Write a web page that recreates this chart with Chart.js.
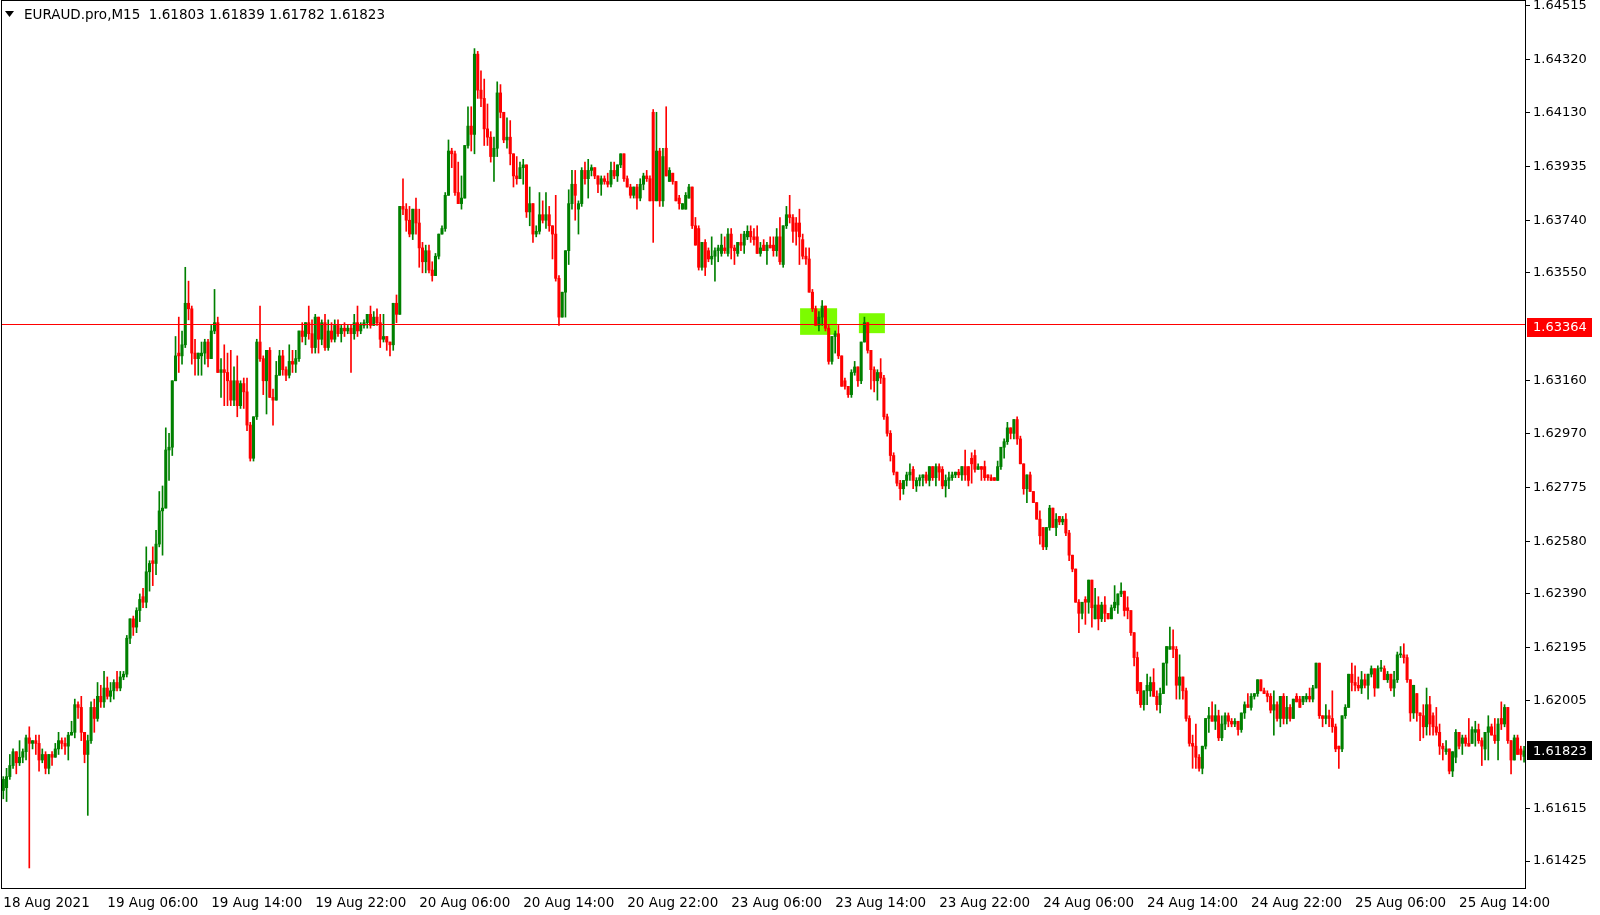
<!DOCTYPE html>
<html>
<head>
<meta charset="utf-8">
<title>EURAUD.pro,M15</title>
<script src="https://cdn.jsdelivr.net/npm/chart.js@4.4.1/dist/chart.umd.min.js"></script>
<style>
  html, body { margin: 0; padding: 0; background: #fff; }
  #wrap { width: 1600px; height: 915px; }
</style>
</head>
<body>
<div id="wrap"><canvas id="chart" width="1600" height="915"></canvas></div>
<script>
// EURAUD.pro M15, one entry per bar (18 Aug 22:00 .. 25 Aug 19:00)
const opens = [
  1.6168,1.6169,1.6173,1.6177,1.6182,1.6178,1.6180,1.6182,1.6187,1.6185, // 0
  1.6186,1.6185,1.6179,1.6181,1.6176,1.6181,1.6180,1.6183,1.6186,1.6185,
  1.6184,1.6188,1.6189,1.6199,1.6198,1.6189,1.6181,1.6186,1.6198,1.6194,
  1.6202,1.6200,1.6205,1.6202,1.6204,1.6207,1.6205,1.6209,1.6210,1.6223,
  1.6230,1.6227,1.6233,1.6238,1.6236,1.6247,1.6251,1.6250,1.6257,1.6269,
  1.6270,1.6291,1.6292,1.6316,1.6326,1.6325,1.6329,1.6344,1.6342,1.6326, // 50
  1.6324,1.6325,1.6326,1.6330,1.6324,1.6334,1.6337,1.6319,1.6320,1.6319,
  1.6316,1.6309,1.6316,1.6307,1.6315,1.6312,1.6300,1.6288,1.6303,1.6330,
  1.6324,1.6316,1.6327,1.6310,1.6309,1.6318,1.6325,1.6320,1.6318,1.6323,
  1.6322,1.6324,1.6334,1.6332,1.6337,1.6333,1.6328,1.6339,1.6331,1.6337,
  1.6328,1.6334,1.6331,1.6336,1.6333,1.6335,1.6334,1.6335,1.6333,1.6337, // 100
  1.6334,1.6336,1.6337,1.6340,1.6336,1.6339,1.6337,1.6331,1.6332,1.6330,
  1.6329,1.6344,1.6340,1.6379,1.6378,1.6374,1.6369,1.6378,1.6373,1.6364,
  1.6359,1.6363,1.6356,1.6354,1.6361,1.6369,1.6371,1.6383,1.6399,1.6398,
  1.6384,1.6380,1.6382,1.6401,1.6408,1.6405,1.6434,1.6421,1.6418,1.6407,
  1.6404,1.6397,1.6400,1.6420,1.6413,1.6403,1.6404,1.6398,1.6390,1.6389, // 150
  1.6393,1.6394,1.6377,1.6380,1.6369,1.6370,1.6376,1.6374,1.6376,1.6372,
  1.6369,1.6353,1.6339,1.6348,1.6363,1.6380,1.6387,1.6378,1.6380,1.6392,
  1.6389,1.6392,1.6393,1.6390,1.6387,1.6389,1.6388,1.6387,1.6392,1.6390,
  1.6394,1.6398,1.6389,1.6386,1.6383,1.6386,1.6382,1.6387,1.6390,1.6389,
  1.6413,1.6381,1.6399,1.6381,1.6400,1.6388,1.6391,1.6388,1.6382,1.6378, // 200
  1.6378,1.6382,1.6386,1.6372,1.6371,1.6357,1.6366,1.6363,1.6360,1.6361,
  1.6363,1.6362,1.6364,1.6362,1.6369,1.6364,1.6362,1.6366,1.6365,1.6368,
  1.6370,1.6368,1.6368,1.6362,1.6365,1.6363,1.6365,1.6365,1.6363,1.6368,
  1.6358,1.6372,1.6376,1.6375,1.6373,1.6373,1.6367,1.6361,1.6360,1.6348,
  1.6342,1.6336,1.6339,1.6343,1.6335,1.6323,1.6332,1.6333,1.6325,1.6316, // 250
  1.6314,1.6311,1.6319,1.6321,1.6316,1.6330,1.6337,1.6327,1.6320,1.6316,
  1.6319,1.6317,1.6303,1.6297,1.6289,1.6283,1.6279,1.6277,1.6280,1.6282,
  1.6284,1.6278,1.6280,1.6281,1.6282,1.6280,1.6285,1.6281,1.6285,1.6284,
  1.6278,1.6280,1.6281,1.6282,1.6283,1.6282,1.6285,1.6285,1.6288,1.6289,
  1.6284,1.6285,1.6285,1.6282,1.6281,1.6281,1.6280,1.6285,1.6292,1.6294, // 300
  1.6299,1.6297,1.6302,1.6295,1.6286,1.6277,1.6282,1.6276,1.6272,1.6266,
  1.6263,1.6256,1.6263,1.6270,1.6263,1.6267,1.6265,1.6266,1.6261,1.6253,
  1.6248,1.6236,1.6232,1.6237,1.6236,1.6244,1.6230,1.6235,1.6230,1.6235,
  1.6232,1.6230,1.6234,1.6235,1.6239,1.6240,1.6234,1.6233,1.6225,1.6216,
  1.6207,1.6199,1.6204,1.6204,1.6207,1.6202,1.6199,1.6203,1.6214,1.6219, // 350
  1.6220,1.6219,1.6206,1.6209,1.6204,1.6194,1.6185,1.6184,1.6180,1.6176,
  1.6184,1.6194,1.6195,1.6193,1.6195,1.6187,1.6192,1.6195,1.6193,1.6192,
  1.6193,1.6190,1.6196,1.6199,1.6198,1.6202,1.6203,1.6208,1.6204,1.6203,
  1.6202,1.6197,1.6199,1.6194,1.6202,1.6194,1.6198,1.6194,1.6202,1.6201,
  1.6200,1.6201,1.6202,1.6201,1.6205,1.6214,1.6195,1.6194,1.6195,1.6194, // 400
  1.6191,1.6184,1.6183,1.6195,1.6198,1.6210,1.6207,1.6206,1.6205,1.6208,
  1.6206,1.6210,1.6212,1.6205,1.6212,1.6212,1.6208,1.6210,1.6205,1.6208,
  1.6217,1.6217,1.6216,1.6208,1.6196,1.6203,1.6196,1.6195,1.6191,1.6199,
  1.6195,1.6191,1.6189,1.6184,1.6182,1.6183,1.6175,1.6180,1.6189,1.6185,
  1.6187,1.6185,1.6185,1.6189,1.6190,1.6186,1.6183,1.6189,1.6191,1.6188, // 450
  1.6186,1.6194,1.6192,1.6198,1.6186,1.6179,1.6187,1.6183,1.61803
];
const highs = [
  1.6173,1.6176,1.6181,1.6183,1.6182,1.6186,1.6183,1.6188,1.6191,1.6186,
  1.6188,1.6188,1.6183,1.6182,1.6181,1.6182,1.6185,1.6189,1.6187,1.6187,
  1.6189,1.6193,1.6201,1.6200,1.6202,1.6189,1.6188,1.6200,1.6201,1.6207,
  1.6206,1.6211,1.6209,1.6207,1.6208,1.6211,1.6211,1.6211,1.6224,1.6230,
  1.6231,1.6234,1.6239,1.6241,1.6256,1.6251,1.6256,1.6262,1.6276,1.6278,
  1.6299,1.6297,1.6316,1.6332,1.6339,1.6334,1.6357,1.6352,1.6343,1.6331,
  1.6326,1.6330,1.6331,1.6331,1.6336,1.6349,1.6339,1.6324,1.6329,1.6326,
  1.6327,1.6321,1.6325,1.6316,1.6317,1.6317,1.6301,1.6303,1.6331,1.6343,
  1.6325,1.6327,1.6328,1.6313,1.6323,1.6327,1.6327,1.6321,1.6329,1.6327,
  1.6327,1.6334,1.6337,1.6337,1.6343,1.6338,1.6340,1.6339,1.6338,1.6340,
  1.6338,1.6337,1.6338,1.6338,1.6336,1.6337,1.6336,1.6336,1.6340,1.6343,
  1.6337,1.6338,1.6340,1.6343,1.6341,1.6342,1.6340,1.6340,1.6332,1.6330,
  1.6344,1.6347,1.6379,1.6389,1.6380,1.6379,1.6378,1.6382,1.6378,1.6366,
  1.6365,1.6365,1.6359,1.6362,1.6369,1.6372,1.6384,1.6403,1.6400,1.6399,
  1.6395,1.6390,1.6401,1.6415,1.6415,1.6436,1.6435,1.6428,1.6425,1.6416,
  1.6406,1.6404,1.6424,1.6423,1.6413,1.6411,1.6410,1.6398,1.6397,1.6395,
  1.6396,1.6394,1.6386,1.6380,1.6372,1.6384,1.6381,1.6384,1.6379,1.6372,
  1.6383,1.6354,1.6348,1.6363,1.6385,1.6392,1.6392,1.6381,1.6393,1.6395,
  1.6396,1.6394,1.6393,1.6390,1.6390,1.6390,1.6391,1.6395,1.6395,1.6394,
  1.6398,1.6398,1.6390,1.6387,1.6386,1.6387,1.6389,1.6391,1.6392,1.6390,
  1.6414,1.6413,1.6400,1.6400,1.6415,1.6393,1.6391,1.6388,1.6383,1.6380,
  1.6384,1.6387,1.6386,1.6375,1.6372,1.6366,1.6367,1.6364,1.6368,1.6364,
  1.6365,1.6369,1.6368,1.6371,1.6371,1.6365,1.6366,1.6369,1.6370,1.6372,
  1.6372,1.6371,1.6372,1.6366,1.6367,1.6366,1.6368,1.6368,1.6371,1.6375,
  1.6372,1.6379,1.6383,1.6376,1.6375,1.6378,1.6369,1.6364,1.6364,1.6349,
  1.6343,1.6341,1.6345,1.6343,1.6336,1.6332,1.6334,1.6336,1.6325,1.6317,
  1.6314,1.6320,1.6323,1.6321,1.6330,1.6339,1.6337,1.6327,1.6321,1.6320,
  1.6324,1.6318,1.6304,1.6298,1.6290,1.6283,1.6280,1.6280,1.6283,1.6286,
  1.6285,1.6281,1.6282,1.6282,1.6283,1.6285,1.6285,1.6286,1.6286,1.6285,
  1.6282,1.6283,1.6283,1.6283,1.6284,1.6285,1.6291,1.6285,1.6290,1.6291,
  1.6286,1.6285,1.6287,1.6282,1.6282,1.6281,1.6287,1.6292,1.6295,1.6301,
  1.6299,1.6302,1.6303,1.6296,1.6286,1.6282,1.6283,1.6276,1.6272,1.6269,
  1.6263,1.6263,1.6271,1.6270,1.6268,1.6267,1.6267,1.6268,1.6262,1.6253,
  1.6248,1.6237,1.6236,1.6238,1.6244,1.6244,1.6241,1.6238,1.6236,1.6238,
  1.6232,1.6235,1.6242,1.6239,1.6243,1.6240,1.6238,1.6233,1.6225,1.6218,
  1.6207,1.6204,1.6210,1.6209,1.6212,1.6204,1.6205,1.6214,1.6220,1.6227,
  1.6226,1.6220,1.6217,1.6209,1.6205,1.6195,1.6188,1.6192,1.6181,1.6184,
  1.6194,1.6198,1.6200,1.6199,1.6197,1.6195,1.6196,1.6196,1.6194,1.6194,
  1.6193,1.6196,1.6200,1.6203,1.6203,1.6203,1.6208,1.6208,1.6205,1.6204,
  1.6203,1.6204,1.6200,1.6202,1.6203,1.6202,1.6199,1.6201,1.6203,1.6202,
  1.6202,1.6203,1.6205,1.6206,1.6214,1.6214,1.6195,1.6199,1.6197,1.6204,
  1.6192,1.6184,1.6195,1.6199,1.6210,1.6214,1.6213,1.6209,1.6211,1.6210,
  1.6210,1.6213,1.6212,1.6213,1.6215,1.6213,1.6211,1.6210,1.6211,1.6218,
  1.6220,1.6221,1.6217,1.6208,1.6206,1.6203,1.6196,1.6199,1.6205,1.6202,
  1.6196,1.6198,1.6192,1.6185,1.6186,1.6183,1.6182,1.6190,1.6189,1.6188,
  1.6188,1.6194,1.6191,1.6193,1.6192,1.6187,1.6189,1.6195,1.6192,1.6194,
  1.6194,1.6200,1.6199,1.6198,1.6186,1.6188,1.6188,1.6184,1.61839
];
const lows = [
  1.6165,1.6164,1.6172,1.6176,1.6174,1.6177,1.6178,1.6179,1.6140,1.6183,
  1.6181,1.6175,1.6178,1.6174,1.6174,1.6177,1.6180,1.6181,1.6183,1.6181,
  1.6179,1.6188,1.6187,1.6194,1.6186,1.6178,1.6159,1.6185,1.6189,1.6193,
  1.6198,1.6198,1.6201,1.6200,1.6201,1.6204,1.6204,1.6208,1.6209,1.6221,
  1.6224,1.6225,1.6229,1.6234,1.6234,1.6240,1.6242,1.6246,1.6256,1.6253,
  1.6270,1.6280,1.6289,1.6316,1.6319,1.6322,1.6328,1.6338,1.6322,1.6318,
  1.6318,1.6318,1.6322,1.6321,1.6324,1.6333,1.6319,1.6310,1.6307,1.6307,
  1.6307,1.6307,1.6303,1.6306,1.6306,1.6298,1.6287,1.6287,1.6302,1.6323,
  1.6311,1.6304,1.6310,1.6300,1.6309,1.6318,1.6318,1.6316,1.6317,1.6319,
  1.6319,1.6323,1.6330,1.6329,1.6331,1.6326,1.6326,1.6326,1.6329,1.6327,
  1.6327,1.6330,1.6330,1.6332,1.6330,1.6332,1.6333,1.6319,1.6331,1.6332,
  1.6333,1.6335,1.6335,1.6335,1.6336,1.6336,1.6328,1.6330,1.6327,1.6325,
  1.6327,1.6337,1.6340,1.6376,1.6370,1.6368,1.6367,1.6369,1.6357,1.6355,
  1.6355,1.6355,1.6352,1.6354,1.6360,1.6369,1.6370,1.6383,1.6393,1.6383,
  1.6380,1.6378,1.6382,1.6400,1.6399,1.6398,1.6418,1.6415,1.6401,1.6401,
  1.6395,1.6388,1.6397,1.6411,1.6402,1.6400,1.6394,1.6386,1.6387,1.6389,
  1.6387,1.6375,1.6372,1.6366,1.6368,1.6369,1.6373,1.6371,1.6370,1.6360,
  1.6352,1.6336,1.6339,1.6339,1.6358,1.6378,1.6374,1.6369,1.6379,1.6387,
  1.6382,1.6390,1.6389,1.6384,1.6383,1.6387,1.6386,1.6386,1.6389,1.6388,
  1.6393,1.6388,1.6386,1.6382,1.6382,1.6378,1.6381,1.6385,1.6388,1.6381,
  1.6366,1.6381,1.6379,1.6379,1.6390,1.6388,1.6387,1.6381,1.6378,1.6378,
  1.6378,1.6382,1.6371,1.6365,1.6356,1.6356,1.6354,1.6359,1.6358,1.6352,
  1.6359,1.6361,1.6362,1.6361,1.6360,1.6358,1.6361,1.6363,1.6362,1.6367,
  1.6366,1.6365,1.6362,1.6361,1.6363,1.6358,1.6364,1.6361,1.6361,1.6358,
  1.6357,1.6371,1.6373,1.6366,1.6365,1.6358,1.6360,1.6358,1.6348,1.6341,
  1.6336,1.6334,1.6336,1.6334,1.6322,1.6322,1.6326,1.6324,1.6314,1.6313,
  1.6310,1.6310,1.6318,1.6314,1.6315,1.6330,1.6326,1.6313,1.6312,1.6309,
  1.6315,1.6302,1.6296,1.6287,1.6282,1.6278,1.6273,1.6275,1.6278,1.6280,
  1.6277,1.6276,1.6278,1.6278,1.6279,1.6278,1.6280,1.6278,1.6280,1.6277,
  1.6274,1.6277,1.6280,1.6281,1.6281,1.6280,1.6280,1.6278,1.6279,1.6283,
  1.6284,1.6280,1.6280,1.6280,1.6280,1.6280,1.6280,1.6284,1.6288,1.6293,
  1.6295,1.6295,1.6293,1.6286,1.6275,1.6272,1.6276,1.6272,1.6266,1.6257,
  1.6255,1.6255,1.6262,1.6263,1.6260,1.6264,1.6264,1.6260,1.6251,1.6247,
  1.6236,1.6225,1.6230,1.6228,1.6232,1.6227,1.6230,1.6226,1.6229,1.6229,
  1.6230,1.6230,1.6233,1.6232,1.6238,1.6231,1.6230,1.6224,1.6213,1.6203,
  1.6198,1.6197,1.6199,1.6202,1.6202,1.6197,1.6196,1.6203,1.6206,1.6219,
  1.6216,1.6201,1.6201,1.6201,1.6193,1.6184,1.6176,1.6176,1.6175,1.6174,
  1.6183,1.6189,1.6193,1.6190,1.6186,1.6186,1.6190,1.6191,1.6191,1.6191,
  1.6188,1.6189,1.6194,1.6198,1.6197,1.6201,1.6202,1.6204,1.6203,1.6200,
  1.6196,1.6188,1.6193,1.6191,1.6192,1.6192,1.6193,1.6194,1.6200,1.6198,
  1.6199,1.6200,1.6200,1.6200,1.6205,1.6194,1.6191,1.6192,1.6191,1.6189,
  1.6182,1.6176,1.6182,1.6194,1.6198,1.6204,1.6204,1.6204,1.6203,1.6205,
  1.6201,1.6209,1.6202,1.6205,1.6211,1.6208,1.6207,1.6204,1.6202,1.6207,
  1.6216,1.6214,1.6207,1.6193,1.6194,1.6193,1.6186,1.6187,1.6188,1.6188,
  1.6188,1.6188,1.6181,1.6179,1.6181,1.6174,1.6173,1.6178,1.6183,1.6181,
  1.6184,1.6184,1.6185,1.6184,1.6185,1.6177,1.6179,1.6179,1.6188,1.6185,
  1.6179,1.6190,1.6191,1.6185,1.6174,1.6179,1.6181,1.6179,1.61782
];
const closes = [
  1.6172,1.6173,1.6177,1.6182,1.6178,1.6180,1.6182,1.6187,1.6185,1.6186,
  1.6185,1.6179,1.6181,1.6176,1.6181,1.6180,1.6183,1.6186,1.6185,1.6184,
  1.6188,1.6189,1.6199,1.6198,1.6189,1.6181,1.6186,1.6198,1.6194,1.6202,
  1.6200,1.6205,1.6202,1.6204,1.6207,1.6205,1.6209,1.6210,1.6223,1.6230,
  1.6227,1.6233,1.6237,1.6236,1.6247,1.6250,1.6250,1.6257,1.6269,1.6270,
  1.6291,1.6292,1.6316,1.6325,1.6325,1.6329,1.6344,1.6342,1.6326,1.6324,
  1.6326,1.6326,1.6330,1.6324,1.6334,1.6337,1.6319,1.6320,1.6319,1.6316,
  1.6309,1.6316,1.6307,1.6315,1.6312,1.6300,1.6288,1.6303,1.6330,1.6324,
  1.6316,1.6327,1.6310,1.6309,1.6318,1.6325,1.6320,1.6318,1.6323,1.6322,
  1.6324,1.6334,1.6332,1.6337,1.6333,1.6328,1.6339,1.6331,1.6337,1.6328,
  1.6334,1.6331,1.6336,1.6333,1.6335,1.6334,1.6335,1.6333,1.6337,1.6334,
  1.6336,1.6337,1.6340,1.6336,1.6339,1.6337,1.6331,1.6332,1.6330,1.6329,
  1.6344,1.6340,1.6379,1.6378,1.6374,1.6369,1.6378,1.6373,1.6364,1.6359,
  1.6363,1.6356,1.6354,1.6361,1.6369,1.6371,1.6383,1.6399,1.6398,1.6384,
  1.6380,1.6382,1.6401,1.6408,1.6405,1.6434,1.6421,1.6418,1.6407,1.6404,
  1.6397,1.6400,1.6420,1.6413,1.6403,1.6404,1.6398,1.6390,1.6389,1.6393,
  1.6394,1.6377,1.6380,1.6369,1.6370,1.6376,1.6374,1.6376,1.6372,1.6369,
  1.6353,1.6339,1.6348,1.6363,1.6380,1.6387,1.6383,1.6380,1.6392,1.6389,
  1.6392,1.6393,1.6390,1.6387,1.6389,1.6388,1.6387,1.6392,1.6390,1.6394,
  1.6398,1.6389,1.6386,1.6383,1.6386,1.6382,1.6387,1.6390,1.6389,1.6381,
  1.6381,1.6399,1.6381,1.6397,1.6390,1.6392,1.6388,1.6381,1.6380,1.6380,
  1.6383,1.6386,1.6372,1.6365,1.6357,1.6366,1.6357,1.6360,1.6361,1.6363,
  1.6364,1.6365,1.6363,1.6369,1.6364,1.6363,1.6366,1.6365,1.6369,1.6370,
  1.6368,1.6367,1.6362,1.6364,1.6363,1.6365,1.6364,1.6363,1.6368,1.6359,
  1.6372,1.6376,1.6375,1.6370,1.6370,1.6368,1.6361,1.6360,1.6348,1.6342,
  1.6336,1.6339,1.6343,1.6335,1.6323,1.6332,1.6333,1.6325,1.6314,1.6314,
  1.6311,1.6319,1.6321,1.6316,1.6330,1.6337,1.6327,1.6320,1.6316,1.6319,
  1.6317,1.6303,1.6297,1.6289,1.6283,1.6279,1.6277,1.6280,1.6282,1.6283,
  1.6280,1.6280,1.6281,1.6282,1.6280,1.6285,1.6281,1.6285,1.6283,1.6278,
  1.6280,1.6281,1.6282,1.6283,1.6282,1.6285,1.6282,1.6280,1.6286,1.6284,
  1.6285,1.6284,1.6281,1.6281,1.6280,1.6280,1.6285,1.6292,1.6294,1.6299,
  1.6297,1.6302,1.6295,1.6286,1.6277,1.6282,1.6276,1.6272,1.6266,1.6260,
  1.6256,1.6263,1.6270,1.6263,1.6266,1.6265,1.6266,1.6261,1.6253,1.6248,
  1.6236,1.6232,1.6236,1.6236,1.6244,1.6234,1.6235,1.6230,1.6235,1.6232,
  1.6230,1.6234,1.6236,1.6239,1.6240,1.6233,1.6233,1.6225,1.6216,1.6204,
  1.6199,1.6204,1.6206,1.6207,1.6202,1.6199,1.6203,1.6214,1.6220,1.6220,
  1.6219,1.6206,1.6209,1.6204,1.6194,1.6185,1.6184,1.6180,1.6176,1.6184,
  1.6194,1.6195,1.6193,1.6195,1.6187,1.6192,1.6195,1.6193,1.6192,1.6193,
  1.6190,1.6196,1.6199,1.6198,1.6202,1.6203,1.6208,1.6204,1.6203,1.6202,
  1.6197,1.6199,1.6194,1.6202,1.6194,1.6198,1.6194,1.6201,1.6200,1.6198,
  1.6202,1.6202,1.6201,1.6205,1.6214,1.6195,1.6194,1.6195,1.6194,1.6191,
  1.6183,1.6183,1.6195,1.6198,1.6210,1.6207,1.6206,1.6205,1.6208,1.6206,
  1.6210,1.6212,1.6205,1.6212,1.6212,1.6208,1.6210,1.6205,1.6208,1.6217,
  1.6217,1.6216,1.6208,1.6196,1.6206,1.6196,1.6195,1.6191,1.6199,1.6192,
  1.6191,1.6189,1.6184,1.6183,1.6183,1.6175,1.6182,1.6189,1.6184,1.6187,
  1.6185,1.6184,1.6190,1.6190,1.6186,1.6184,1.6189,1.6191,1.6188,1.6186,
  1.6192,1.6192,1.6198,1.6186,1.6179,1.6187,1.6181,1.6181,1.61823
];

// time axis: a label every 32 bars
const timeLabels = ['18 Aug 2021', '19 Aug 06:00', '19 Aug 14:00', '19 Aug 22:00', '20 Aug 06:00',
  '20 Aug 14:00', '20 Aug 22:00', '23 Aug 06:00', '23 Aug 14:00', '23 Aug 22:00',
  '24 Aug 06:00', '24 Aug 14:00', '24 Aug 22:00', '25 Aug 06:00', '25 Aug 14:00'];
const timeLabelBars = [0, 32, 64, 96, 128, 160, 192, 224, 256, 288, 320, 352, 384, 416, 448];

// price axis labels as printed by the terminal
const priceTicks = [1.64515, 1.64320, 1.64130, 1.63935, 1.63740, 1.63550, 1.63160, 1.62970,
  1.62775, 1.62580, 1.62390, 1.62195, 1.62005, 1.61615, 1.61425];

const headerText = 'EURAUD.pro,M15  1.61803 1.61839 1.61782 1.61823';
const levelPrice = 1.63364;   // horizontal line
const lastPrice = 1.61823;    // bid label
// highlighted rectangles: bar range and price range
const zoneFrom = [245.2, 263.3];
const zoneTo = [256.6, 271.3];
const zoneHigh = [1.63422, 1.63404];
const zoneLow = [1.63326, 1.63332];

const BULL = '#008000';
const BEAR = '#ff0000';
const FONT = 'DejaVu Sans';

const bars = opens.map((_, i) => i);
const isBull = (i) => closes[i] >= opens[i];

const mt4Overlay = {
  id: 'mt4Overlay',
  beforeDatasetsDraw(chart) {
    const { ctx, scales: { x, y } } = chart;
    ctx.save();
    ctx.fillStyle = '#7cfc00';
    zoneFrom.forEach((from, k) => {
      const x0 = x.getPixelForValue(from), x1 = x.getPixelForValue(zoneTo[k]);
      const y0 = y.getPixelForValue(zoneHigh[k]), y1 = y.getPixelForValue(zoneLow[k]);
      ctx.fillRect(x0, y0, x1 - x0, y1 - y0);
    });
    ctx.restore();
  },
  afterDatasetsDraw(chart) {
    const { ctx, chartArea: a, scales: { y } } = chart;
    const ly = Math.round(y.getPixelForValue(levelPrice)) + 0.5;
    ctx.save();
    ctx.strokeStyle = '#ff0000';
    ctx.lineWidth = 1;
    ctx.beginPath();
    ctx.moveTo(a.left, ly);
    ctx.lineTo(a.right, ly);
    ctx.stroke();
    ctx.restore();
  },
  afterDraw(chart) {
    const { ctx, chartArea: a, scales: { y } } = chart;
    ctx.save();
    // frame
    ctx.strokeStyle = '#000';
    ctx.lineWidth = 1;
    ctx.strokeRect(a.left + 0.5, a.top - 0.5, a.right - a.left, a.bottom - a.top);

    // header
    ctx.fillStyle = '#000';
    ctx.beginPath();
    ctx.moveTo(5, 11); ctx.lineTo(14, 11); ctx.lineTo(9.5, 17); ctx.closePath();
    ctx.fill();
    ctx.font = '13.5px "' + FONT + '"';
    ctx.textBaseline = 'middle';
    ctx.textAlign = 'left';
    ctx.fillText(headerText, 24, 15);

    // price boxes on the axis
    ctx.font = '13px "' + FONT + '"';
    const box = (price, yc, bg) => {
      ctx.fillStyle = bg;
      ctx.fillRect(a.right + 2, Math.round(yc - 9.5), 65, 19);
      ctx.fillStyle = '#fff';
      ctx.fillText(price.toFixed(5), a.right + 8, yc + 0.5);
    };
    box(levelPrice, y.getPixelForValue(levelPrice) + 3, '#ff0000');
    box(lastPrice, y.getPixelForValue(lastPrice), '#000');
    ctx.restore();
  }
};

new Chart(document.getElementById('chart'), {
  type: 'bar',
  data: {
    datasets: [
      {
        label: 'body',
        data: bars.map(i => ({ x: i, y: [opens[i], closes[i]] })),
        backgroundColor: c => isBull(c.dataIndex) ? BULL : BEAR,
        barThickness: 2.4,
        minBarLength: 1,
        grouped: false,
        order: 0
      },
      {
        label: 'wick',
        data: bars.map(i => ({ x: i, y: [lows[i], highs[i]] })),
        backgroundColor: c => isBull(c.dataIndex) ? BULL : BEAR,
        barThickness: 1,
        grouped: false,
        order: 1
      }
    ]
  },
  options: {
    responsive: false,
    animation: false,
    devicePixelRatio: 1,
    layout: { padding: { top: 1, left: 1, right: 0, bottom: 0 } },
    plugins: { legend: { display: false }, tooltip: { enabled: false } },
    scales: {
      x: {
        type: 'linear',
        min: -0.71,
        max: 468.29,
        offset: false,
        grid: { display: false },
        border: { display: false },
        afterBuildTicks: s => { s.ticks = timeLabelBars.map(v => ({ value: v })); },
        afterFit: s => { s.height = 26; s.paddingLeft = 0; s.paddingRight = 0; },
        ticks: {
          autoSkip: false,
          maxRotation: 0,
          minRotation: 0,
          align: 'start',
          padding: -2,
          color: '#000',
          font: { family: FONT, size: 13.5 },
          callback: (v, i) => timeLabels[i]
        }
      },
      y: {
        position: 'right',
        min: 1.61324,
        max: 1.64532,
        grid: { drawOnChartArea: false, tickLength: 5, color: '#000' },
        border: { display: false },
        afterBuildTicks: s => { s.ticks = priceTicks.map(v => ({ value: v })); },
        afterFit: s => { s.width = 75; s.paddingTop = 0; s.paddingBottom = 0; },
        ticks: {
          autoSkip: false,
          padding: 3,
          color: '#000',
          font: { family: FONT, size: 13 },
          callback: v => v.toFixed(5)
        }
      }
    }
  },
  plugins: [mt4Overlay]
});
</script>
</body>
</html>
